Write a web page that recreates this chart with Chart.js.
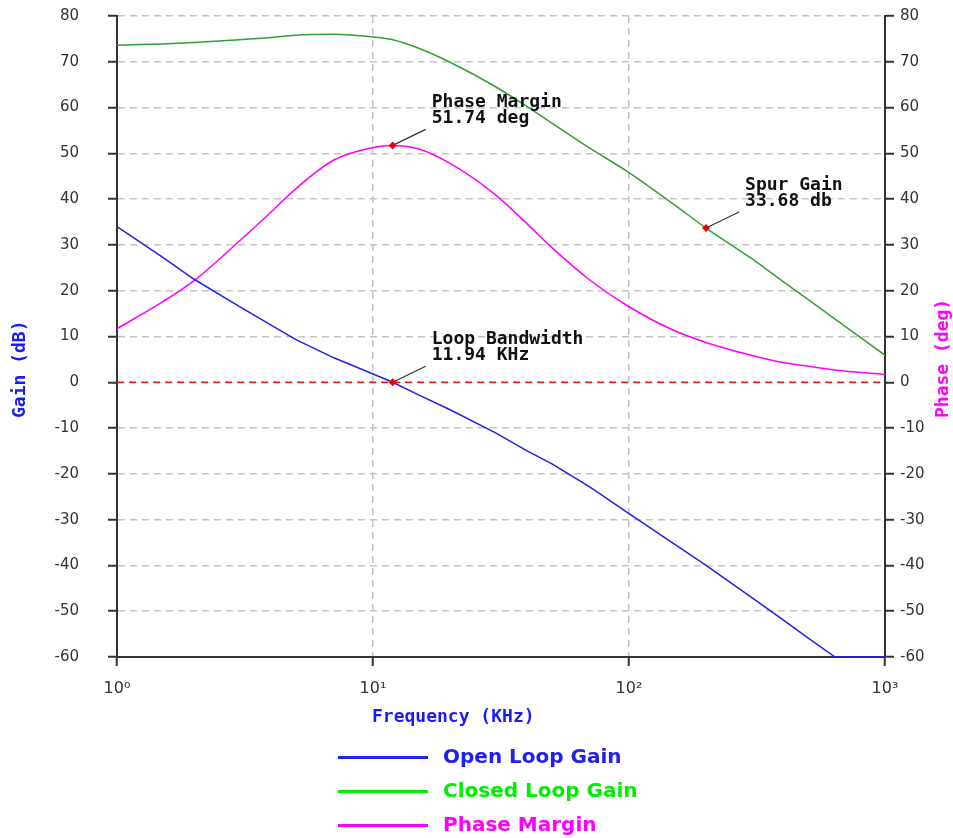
<!DOCTYPE html>
<html>
<head>
<meta charset="utf-8">
<script src="https://cdn.jsdelivr.net/npm/chart.js@4"></script>
<style>
body { margin: 0; background: #fff; }
#wrap { position: relative; width: 953px; height: 838px; }
#legend { position: absolute; left: 338px; top: 740px; font: bold 20px "DejaVu Sans", sans-serif; }
.row { position: absolute; left: 0; width: 400px; height: 34px; }
.row .ln { position: absolute; left: 0; top: 16px; width: 90px; height: 3px; }
.row .tx { position: absolute; left: 105px; top: 4px; white-space: nowrap; }
</style>
</head>
<body>
<div id="wrap">
    <canvas id="bode" width="953" height="838"></canvas>
    <div id="legend"></div>
</div>
<script>
// Frequency points (KHz)
const freqKHz = [1, 1.5, 2, 3, 4, 5, 7, 10, 11.94, 15, 20, 30, 40, 50, 70, 100, 150, 200, 300, 400, 500, 638, 1000];
// Open loop gain (dB)
const openLoopGain = [34.0, 27.4, 22.5, 16.6, 12.5, 9.3, 5.4, 1.8, 0, -2.7, -6.0, -11.0, -15.0, -17.8, -22.8, -28.7, -35.3, -40.0, -46.9, -51.9, -55.8, -60, -60];
// Closed loop gain (dB)
const closedLoopGain = [73.6, 73.9, 74.2, 74.8, 75.3, 75.8, 76.0, 75.4, 74.8, 73.0, 69.9, 64.6, 60.2, 56.6, 51.2, 45.8, 38.8, 33.68, 27.1, 22.0, 18.1, 13.8, 5.9];
// Phase margin (deg)
const phaseMargin = [11.7, 17.5, 22.2, 30.8, 37.2, 42.3, 48.5, 51.3, 51.74, 51.0, 47.8, 41.0, 34.6, 29.4, 22.4, 16.5, 11.3, 8.7, 5.9, 4.3, 3.5, 2.7, 1.7];

// Tick labels
const xTickValues = [1, 10, 100, 1000];
const xTickLabels = ['10\u2070', '10\u00b9', '10\u00b2', '10\u00b3'];

// Marked points
const markLabels = ['Phase Margin', 'Loop Bandwidth', 'Spur Gain'];
const markTexts = ['51.74 deg', '11.94 KHz', '33.68 db'];
const markFreq = [11.94, 11.94, 200];
const markValue = [51.74, 0, 33.68];
const markAxis = ['yPhase', 'yGain', 'yGain'];

// Legend
const seriesNames = ['Open Loop Gain', 'Closed Loop Gain', 'Phase Margin'];
const legendColors = ['#2020f0', '#00ee00', '#ff00ff'];

const toPoints = ys => freqKHz.map((f, i) => ({ x: f, y: ys[i] }));

// vẽ tiêu đề trục + chú thích điểm
const extras = {
    id: 'extras',
    afterDatasetsDraw(chart) {
        const ctx = chart.ctx;
        const xs = chart.scales.x;
        ctx.save();
        markFreq.forEach((f, i) => {
            const px = xs.getPixelForValue(f);
            const py = chart.scales[markAxis[i]].getPixelForValue(markValue[i]);
            ctx.strokeStyle = '#333';
            ctx.lineWidth = 1.2;
            ctx.beginPath();
            ctx.moveTo(px + 2, py - 1);
            ctx.lineTo(px + 33, py - 16);
            ctx.stroke();
            ctx.fillStyle = '#ee0000';
            ctx.beginPath();
            ctx.moveTo(px, py - 4);
            ctx.lineTo(px + 4, py);
            ctx.lineTo(px, py + 4);
            ctx.lineTo(px - 4, py);
            ctx.closePath();
            ctx.fill();
            ctx.fillStyle = '#111';
            ctx.font = 'bold 18px "DejaVu Sans Mono", monospace';
            ctx.textAlign = 'left';
            ctx.textBaseline = 'middle';
            ctx.fillText(markLabels[i], px + 39, py - 43);
            ctx.fillText(markTexts[i], px + 39, py - 27);
        });

        ctx.font = 'bold 18px "DejaVu Sans Mono", monospace';
        ctx.textBaseline = 'middle';
        ctx.textAlign = 'left';
        ctx.fillStyle = '#1a1aff';
        ctx.fillText('Frequency (KHz)', 372, 717);

        ctx.save();
        ctx.translate(20, 418);
        ctx.rotate(-Math.PI / 2);
        ctx.fillText('Gain (dB)', 0, 0);
        ctx.restore();

        ctx.save();
        ctx.translate(943, 418);
        ctx.rotate(-Math.PI / 2);
        ctx.fillStyle = '#ff00ff';
        ctx.fillText('Phase (deg)', 0, 0);
        ctx.restore();
        ctx.restore();
    }
};

const gridOpts = {
    color: '#c4c4c4',
    lineWidth: 1.5,
    tickColor: '#333',
    tickLength: 9,
    tickWidth: 2,
    tickBorderDash: []
};
const tickFont = { family: '"DejaVu Sans", sans-serif', size: 15 };

// cố định kích thước trục
const fixY = w => s => { s.width = w; s.paddingTop = 0; s.paddingBottom = 0; };

new Chart(document.getElementById('bode'), {
    type: 'line',
    data: {
        datasets: [
            {
                label: 'zero',
                data: [{ x: 1, y: 0 }, { x: 1000, y: 0 }],
                yAxisID: 'yGain',
                borderColor: '#ff1010',
                borderWidth: 1.5,
                borderDash: [7, 5],
                pointRadius: 0
            },
            {
                label: seriesNames[0],
                data: toPoints(openLoopGain),
                yAxisID: 'yGain',
                borderColor: '#2020f0',
                borderWidth: 1.5,
                pointRadius: 0,
                tension: 0
            },
            {
                label: seriesNames[1],
                data: toPoints(closedLoopGain),
                yAxisID: 'yGain',
                borderColor: 'rgb(50,160,50)',
                borderWidth: 1.5,
                pointRadius: 0,
                cubicInterpolationMode: 'monotone'
            },
            {
                label: seriesNames[2],
                data: toPoints(phaseMargin),
                yAxisID: 'yPhase',
                borderColor: '#ff00ff',
                borderWidth: 1.5,
                pointRadius: 0,
                cubicInterpolationMode: 'monotone'
            }
        ]
    },
    options: {
        responsive: false,
        animation: false,
        layout: { padding: { top: 16, bottom: 98, left: 0, right: 0 } },
        plugins: { legend: { display: false }, tooltip: { enabled: false } },
        scales: {
            x: {
                type: 'logarithmic',
                position: 'bottom',
                min: 1,
                max: 1000,
                afterBuildTicks: s => { s.ticks = xTickValues.map(v => ({ value: v })); },
                afterFit: s => { s.height = 83; },
                ticks: {
                    callback: v => xTickLabels[xTickValues.indexOf(v)],
                    font: { family: '"DejaVu Sans", sans-serif', size: 16 },
                    color: '#333',
                    padding: 13,
                    maxRotation: 0,
                    autoSkip: false
                },
                grid: gridOpts,
                border: { color: '#333', width: 2, dash: [7, 5] }
            },
            yGain: {
                type: 'linear',
                position: 'left',
                min: -60,
                max: 80,
                afterFit: fixY(117),
                ticks: { stepSize: 10, font: tickFont, color: '#333', padding: 29 },
                grid: gridOpts,
                border: { color: '#333', width: 2, dash: [7, 5] }
            },
            yPhase: {
                type: 'linear',
                position: 'right',
                min: -60,
                max: 80,
                afterFit: fixY(68),
                ticks: { stepSize: 10, font: tickFont, color: '#333', padding: 6 },
                grid: Object.assign({}, gridOpts, { drawOnChartArea: false }),
                border: { color: '#333', width: 2 }
            }
        }
    },
    plugins: [extras]
});

// chú thích dạng HTML
const legend = document.getElementById('legend');
seriesNames.forEach((name, i) => {
    const row = document.createElement('div');
    row.className = 'row';
    row.style.top = (i * 34) + 'px';
    row.innerHTML = '<span class="ln" style="background:' + legendColors[i] + '"></span>' +
        '<span class="tx" style="color:' + legendColors[i] + '">' + name + '</span>';
    legend.appendChild(row);
});
</script>
</body>
</html>
